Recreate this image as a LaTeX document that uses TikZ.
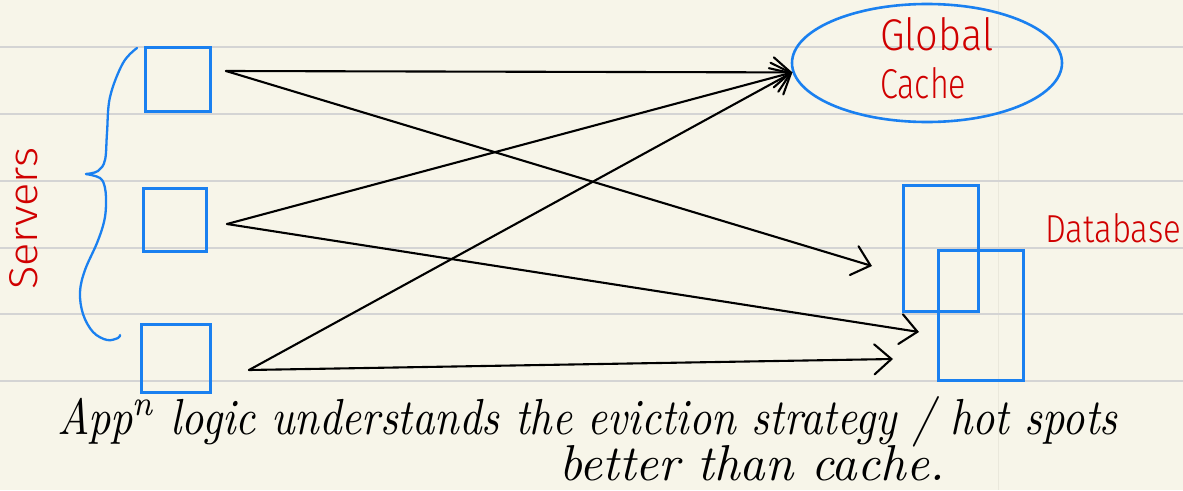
\documentclass[tikz,border=0pt]{standalone}
\usepackage{fontspec}
\usepackage{graphicx}
\usetikzlibrary{arrows.meta,shapes.geometric}
\newfontfamily\handfont{Fira Sans Light}
\definecolor{paper}{RGB}{247,245,233}
\definecolor{ruling}{RGB}{212,212,212}
\definecolor{margin}{RGB}{234,232,220}
\definecolor{penblue}{RGB}{26,128,240}
\definecolor{penred}{RGB}{208,0,0}
\tikzset{
  box/.style={draw=penblue, line width=2.6pt, inner sep=0pt, anchor=north west},
  cacheshape/.style={ellipse, draw=penblue, line width=2.6pt, inner sep=0pt,
                     minimum width=270pt, minimum height=118pt},
  flow/.style={draw=black, line width=2.1pt, line cap=round,
               -{Straight Barb[length=17pt,width=30pt,line cap=round]}},
  lbl/.style={text=penred, inner sep=0pt, anchor=base west, font=\handfont},
  note/.style={text=black, inner sep=0pt, anchor=base west, font=\itshape},
  brace/.style={draw=penblue, line width=2.3pt, line cap=round, line join=round},
}
\begin{document}
\begin{tikzpicture}[x=1pt, y=-1pt]
  % paper
  \useasboundingbox (0,0) rectangle (1183,490);
  \clip (0,0) rectangle (1183,490);
  \fill[paper] (0,0) rectangle (1183,490);
  \draw[margin, line width=1pt] (998,0) -- (998,490);
  \foreach \yy in {47,114,181,248,314,381}
    \draw[ruling, line width=1.3pt] (0,\yy) -- (1183,\yy);

  % servers
  \node[box, minimum width=65pt, minimum height=64pt] (s1) at (144,46) {};
  \node[box, minimum width=63pt, minimum height=63pt] (s2) at (142,187) {};
  \node[box, minimum width=69pt, minimum height=68pt] (s3) at (140,323) {};

  % curly brace grouping the servers
  \draw[brace] plot[smooth, tension=0.6] coordinates
    {(137,48) (123,63) (110,97) (107,133) (105,160) (98,171) (86,174)};
  \draw[brace] plot[smooth, tension=0.6] coordinates
    {(86,174) (100,178) (105,188) (106,205) (104,222) (97,243) (85,270)
     (80,292) (83,314) (93,332) (107,340) (118,338) (120,335)};
  \node[lbl, rotate=90] (tsrv) at (37,290) {\resizebox{142pt}{28pt}{Servers}};

  % global cache
  \node[cacheshape] (cache) at (927,63) {};
  \node[lbl] (tglobal) at (880,50) {\resizebox{113pt}{33pt}{Global}};
  \node[lbl] (tcache) at (880,98) {\resizebox{86pt}{31pt}{Cache}};

  % database
  \node[box, minimum width=75pt, minimum height=126pt] (db1) at (902,184) {};
  \node[box, minimum width=85pt, minimum height=130pt] (db2) at (937,249) {};
  \node[lbl] (tdb) at (1045,242) {\resizebox{136pt}{29pt}{Database}};

  % arrow start and end points
  \coordinate (o1) at (226,71);
  \coordinate (o2) at (227,224);
  \coordinate (o3) at (249,370);
  \coordinate (d1) at (872,266);
  \coordinate (d2) at (919,332);
  \coordinate (d3) at (893,359);

  % requests
  \draw[flow] (o1) -- (cache.184);
  \draw[flow] (o1) -- (d1);
  \draw[flow] (o2) -- (cache.184);
  \draw[flow] (o2) -- (d2);
  \draw[flow] (o3) -- (cache.184);
  \draw[flow] (o3) -- (d3);

  % note
  \node[note] (n1) at (57,434)
    {\resizebox{1060pt}{38pt}{App\textsuperscript{n} logic understands the eviction strategy / hot spots}};
  \node[note] (n2) at (559,480) {\resizebox{385pt}{35pt}{better than cache.}};
\end{tikzpicture}
\end{document}
